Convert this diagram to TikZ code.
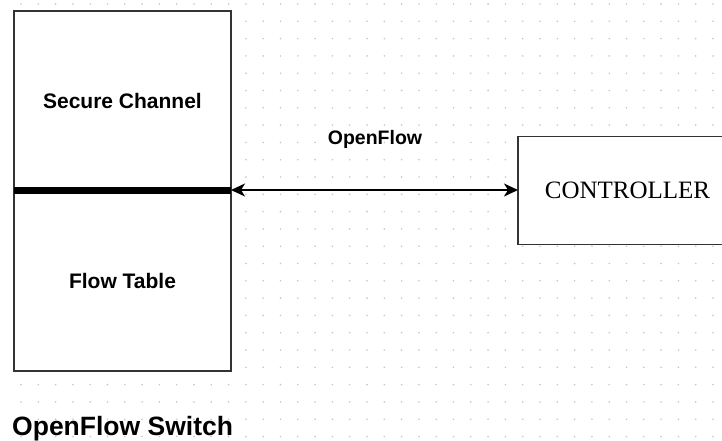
\documentclass[tikz,border=0pt]{standalone}
\usepackage{fontspec}
\setsansfont{Liberation Sans}
\newfontfamily\ctrlfont{Liberation Serif}
\usetikzlibrary{positioning, arrows.meta}
\tikzset{
x=1pt, y=-1pt, % one unit is one pixel, y grows downwards
unit/.style={draw=black!80, line width=1.8pt, fill=white, outer sep=0pt, font=\sffamily\bfseries\fontsize{21}{25}\selectfont}, % the boxes of the switch
divider/.style={line width=7pt, black}, % the bar between the two halves
link/.style={{Stealth[length=14pt,width=13pt,inset=4pt]}-{Stealth[length=14pt,width=13pt,inset=4pt]}, line width=1.6pt}, % the protocol link
griddot/.style={fill=black!22}, % the dots of the paper grid
}

\begin{document}
\begin{tikzpicture}
                \clip (0,0) rectangle (722,440);
                \fill[white] (0,0) rectangle (722,440);
                \foreach \i in {0,...,40}
                    \foreach \j in {0,...,25}
                        \fill[griddot] (21+17.3*\i,4+17.3*\j) circle (0.9pt);

                \node[unit, minimum width=217pt, minimum height=179pt] (secure) at (122.5,100.5) {Secure Channel};
                \node[unit, minimum width=217pt, minimum height=181pt, below=0pt of secure] (flowtable) {Flow Table};
                \node[unit, minimum width=219pt, minimum height=108pt, font=\ctrlfont\fontsize{25}{30}\selectfont] (ctrl) at (627.5,190.5) {CONTROLLER};

                \draw[divider] (secure.south west) -- (secure.south east);
                \draw[link] (secure.south east) -- (secure.south east -| ctrl.west);

                \node[font=\sffamily\bfseries\fontsize{19.5}{23}\selectfont] (proto) at (375,139) {OpenFlow};
                \node[anchor=base west, inner sep=0pt, font=\sffamily\bfseries\fontsize{26.5}{31}\selectfont] (title) at (12,435) {OpenFlow Switch};
\end{tikzpicture}
\end{document}
